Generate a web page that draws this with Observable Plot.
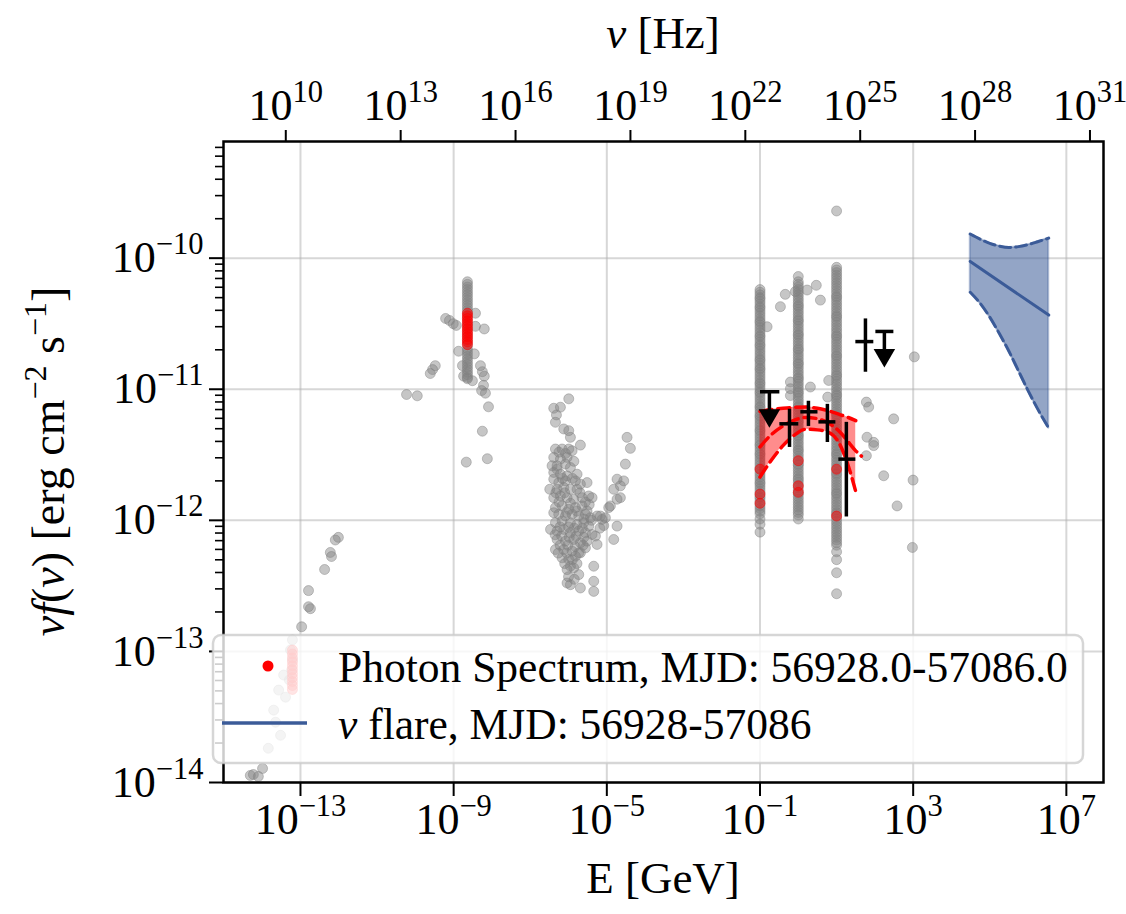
<!DOCTYPE html>
<html><head><meta charset="utf-8">
<script src="https://cdn.jsdelivr.net/npm/d3@7"></script>
<script src="https://cdn.jsdelivr.net/npm/@observablehq/plot@0.6"></script>
<style>
html,body{margin:0;padding:0;background:#fff;overflow:hidden}
</style></head><body><div id="chart"></div>
<script>
// ---------------- DATA (log10 E[GeV], log10 νF [erg cm^-2 s^-1]) ----------------
const H_GEV = 4.135667696e-24; // Planck constant in GeV·s, E = h ν

const xTicks = [1e-13, 1e-9, 1e-5, 1e-1, 1e3, 1e7];
const nuTicks = [1e10, 1e13, 1e16, 1e19, 1e22, 1e25, 1e28, 1e31];
const yTicks = [1e-14, 1e-13, 1e-12, 1e-11, 1e-10];
const yMinorTicks = [
  2e-14,3e-14,4e-14,5e-14,6e-14,7e-14,8e-14,9e-14,
  2e-13,3e-13,4e-13,5e-13,6e-13,7e-13,8e-13,9e-13,
  2e-12,3e-12,4e-12,5e-12,6e-12,7e-12,8e-12,9e-12,
  2e-11,3e-11,4e-11,5e-11,6e-11,7e-11,8e-11,9e-11,
  2e-10,3e-10,4e-10,5e-10,6e-10,7e-10
];

// archival radio points
const radioPts = [
  [-12.01,-12.13],[-12.09,-12.15],[-12.22,-12.245],[-12.19,-12.276],[-12.37,-12.375],
  [-12.79,-12.536],[-12.79,-12.659],[-12.74,-12.674],[-12.97,-12.812],
  [-13.21,-12.912],[-13.26,-12.989],[-13.21,-13.065],[-13.23,-13.142],[-13.29,-13.218],
  [-13.44,-13.18],[-13.57,-13.295],[-13.39,-13.349],[-13.70,-13.448],[-13.65,-13.54],
  [-13.52,-13.64],[-13.84,-13.739],[-13.99,-13.893],[-14.23,-13.939],[-14.10,-13.954],[-14.31,-13.946]
];
// archival optical / UV points
const opticalBarLogE = -8.64;
const opticalBarLogF = [-10.18,-10.20,-10.22,-10.24,-10.26,-10.28,-10.30,-10.32,-10.34,-10.36,-10.38,-10.40,
  -10.42,-10.45,-10.48,-10.51,-10.54,-10.57,-10.60,-10.63,-10.66,-10.69,-10.71,-10.73,-10.75,-10.77,-10.79,
  -10.81,-10.83,-10.85,-10.87,-10.89,-10.91,-10.92];
const opticalPts = [
  [-9.21,-10.46],[-9.11,-10.475],[-9.01,-10.50],[-8.93,-10.513],[-9.48,-10.82],[-9.55,-10.85],
  [-9.61,-10.88],[-10.23,-11.04],[-9.95,-11.05],[-8.87,-10.71],[-8.77,-10.82],[-8.43,-10.52],
  [-8.20,-10.54],[-8.46,-10.73],[-8.30,-10.82],[-8.25,-10.866],[-8.20,-10.90],[-8.22,-10.97],
  [-8.27,-11.01],[-8.17,-11.03],[-8.74,-10.90],[-8.51,-10.935],[-8.09,-11.134],[-8.25,-11.32],
  [-8.12,-11.53],[-8.67,-11.556],[-8.43,-10.42]
];
// archival X-ray points
const xrayPts = [
  [-5.994,-11.073],[-6.386,-11.145],[-6.212,-11.137],[-6.316,-11.196],[-6.342,-11.252],[-6.125,-11.303],
  [-5.994,-11.316],[-5.951,-11.367],[-5.69,-11.426],[-6.342,-11.456],[-6.168,-11.456],[-5.994,-11.456],
  [-5.907,-11.469],[-6.386,-11.52],[-6.212,-11.533],[-6.038,-11.52],[-6.299,-11.584],[-6.081,-11.571],
  [-5.951,-11.597],[-6.386,-11.635],[-6.212,-11.648],[-6.038,-11.661],[-5.777,-11.648],[-6.386,-11.686],
  [-6.255,-11.712],[-6.081,-11.699],[-5.82,-11.699],[-5.69,-11.724],[-5.516,-11.712],[-6.299,-11.763],
  [-6.125,-11.75],[-5.951,-11.763],[-5.777,-11.763],[-6.386,-11.827],[-6.212,-11.814],[-6.038,-11.827],
  [-5.864,-11.839],[-5.646,-11.827],[-5.472,-11.814],[-5.385,-11.827],[-6.342,-11.903],[-6.168,-11.89],
  [-5.994,-11.916],[-5.82,-11.903],[-5.646,-11.89],[-5.516,-11.929],[-6.386,-11.942],[-6.255,-11.954],
  [-6.081,-11.967],[-5.907,-11.954],[-5.733,-11.967],[-5.559,-11.954],[-5.429,-11.98],[-6.342,-12.018],
  [-6.168,-12.005],[-5.951,-12.018],[-5.777,-12.031],[-5.603,-12.018],[-5.472,-12.044],[-6.299,-12.082],
  [-6.125,-12.069],[-5.951,-12.095],[-5.733,-12.082],[-5.559,-12.095],[-5.385,-12.108],[-6.299,-12.146],
  [-6.081,-12.159],[-5.864,-12.146],[-5.69,-12.171],[-5.516,-12.159],[-5.298,-12.12],[-6.342,-12.223],
  [-6.125,-12.223],[-5.907,-12.235],[-5.733,-12.248],[-5.559,-12.21],[-5.255,-12.184],[-6.168,-12.286],
  [-5.994,-12.299],[-5.82,-12.274],[-5.69,-12.248],[-6.038,-12.376],[-5.864,-12.363],[-5.733,-12.414],
  [-5.342,-12.35],[-6.038,-12.478],[-5.951,-12.491],[-5.69,-12.516],[-5.342,-12.465],[-5.342,-12.542],
  [-6.43,-11.584],[-6.49,-11.763],[-6.47,-12.069],
  [-6.25,-11.48],[-6.08,-11.49],[-5.86,-11.55],[-6.30,-11.61],[-6.16,-11.68],[-5.90,-11.68],[-6.33,-11.79],
  [-6.10,-11.79],[-5.70,-11.79],[-5.56,-11.86],[-6.25,-11.86],[-5.95,-11.87],[-6.05,-11.94],[-5.78,-11.93],
  [-5.60,-11.99],[-6.22,-12.05],[-6.00,-12.05],[-5.85,-12.06],[-5.64,-12.06],[-6.35,-12.11],[-6.18,-12.12],
  [-5.98,-12.13],[-5.80,-12.12],[-5.60,-12.13],[-6.22,-12.19],[-6.02,-12.19],[-5.83,-12.20],[-5.62,-12.19],
  [-6.27,-12.25],[-6.05,-12.25],[-5.90,-12.30],[-6.10,-12.33],[-5.95,-12.35],[-5.78,-12.33],[-6.00,-12.43],
  [-5.85,-12.45],[-5.46,-11.88],[-5.40,-12.00],[-5.18,-12.06],[-5.08,-12.04],
  [-4.472,-11.367],[-4.385,-11.451],[-4.515,-11.571],[-4.733,-11.686],[-4.559,-11.699],[-4.646,-11.737],
  [-4.82,-11.763],[-4.646,-11.827],[-4.733,-11.839],[-4.907,-11.89],[-4.95,-11.903],[-5.168,-11.967],
  [-5.037,-11.98],[-5.124,-11.993],[-4.733,-12.044],[-4.82,-12.146],[-5.255,-11.967]
];
// archival gamma-ray light-curve columns at 0.1, 1, 10 GeV
const gammaColLogE = [-1, 0, 1];
const gammaCol1LogF = [-10.24,-10.26,-10.28,-10.30,-10.31,-10.33,-10.35,-10.37,-10.38,-10.40,-10.42,-10.44,
  -10.46,-10.48,-10.49,-10.51,-10.53,-10.55,-10.57,-10.59,-10.60,-10.62,-10.64,-10.66,-10.67,-10.69,-10.71,
  -10.73,-10.75,-10.77,-10.78,-10.80,-10.82,-10.84,-10.85,-10.87,-10.89,-10.91,-10.93,-10.95,-10.96,-10.98,
  -11.00,-11.02,-11.03,-11.05,-11.07,-11.09,-11.11,-11.13,-11.14,-11.16,-11.18,-11.20,-11.21,-11.23,-11.25,
  -11.27,-11.29,-11.31,-11.32,-11.34,-11.36,-11.38,-11.40,-11.42,-11.43,-11.45,-11.47,-11.49,-11.50,-11.52,
  -11.54,-11.56,-11.58,-11.60,-11.61,-11.63,-11.65,-11.67,-11.69,-11.71,-11.72,-11.74,-11.76,-11.78,-11.80,
  -11.82,-11.83,-11.85,-11.87,-11.89,-11.91,-11.93,-11.95,-11.99,-12.03,-12.09];
const gammaCol2LogF = [-10.14,-10.18,-10.20,-10.22,-10.24,-10.26,-10.28,-10.30,-10.32,-10.34,-10.36,-10.37,
  -10.39,-10.41,-10.43,-10.45,-10.47,-10.48,-10.50,-10.52,-10.54,-10.56,-10.58,-10.59,-10.61,-10.63,-10.65,
  -10.67,-10.69,-10.70,-10.72,-10.74,-10.76,-10.78,-10.80,-10.81,-10.83,-10.85,-10.87,-10.89,-10.91,-10.92,
  -10.94,-10.96,-10.98,-11.00,-11.02,-11.03,-11.05,-11.07,-11.09,-11.11,-11.13,-11.14,-11.16,-11.18,-11.20,
  -11.22,-11.24,-11.25,-11.27,-11.29,-11.31,-11.33,-11.35,-11.36,-11.38,-11.40,-11.42,-11.44,-11.46,-11.47,
  -11.49,-11.51,-11.53,-11.55,-11.57,-11.58,-11.60,-11.62,-11.64,-11.66,-11.68,-11.69,-11.71,-11.73,-11.75,
  -11.77,-11.79,-11.80,-11.82,-11.84,-11.86,-11.88,-11.90,-11.92,-11.94,-11.96,-11.99];
const gammaCol3LogF = [-9.64,-10.07,-10.09,-10.11,-10.13,-10.15,-10.17,-10.19,-10.21,-10.23,-10.25,-10.27,
  -10.29,-10.30,-10.32,-10.34,-10.36,-10.38,-10.40,-10.42,-10.44,-10.45,-10.47,-10.49,-10.51,-10.53,-10.55,
  -10.57,-10.59,-10.60,-10.62,-10.64,-10.66,-10.68,-10.70,-10.72,-10.74,-10.75,-10.77,-10.79,-10.81,-10.83,
  -10.85,-10.87,-10.89,-10.90,-10.92,-10.94,-10.96,-10.98,-11.00,-11.02,-11.04,-11.05,-11.07,-11.09,-11.11,
  -11.13,-11.15,-11.17,-11.19,-11.20,-11.22,-11.24,-11.26,-11.28,-11.30,-11.32,-11.34,-11.35,-11.37,-11.39,
  -11.41,-11.43,-11.45,-11.47,-11.49,-11.50,-11.52,-11.54,-11.56,-11.58,-11.60,-11.62,-11.64,-11.65,-11.67,
  -11.69,-11.71,-11.73,-11.75,-11.77,-11.79,-11.80,-11.82,-11.84,-11.86,-11.88,-11.90,-11.92,-11.94,-11.95,
  -11.97,-11.99,-12.01,-12.03,-12.05,-12.07,-12.09,-12.11,-12.13,-12.15,-12.17,-12.19,-12.24,-12.30,-12.40,-12.56];
const gammaScatterPts = [
  [-0.467,-10.37],[-0.076,-10.255],[-0.34,-10.276],[0.23,-10.243],[0.577,-10.32],[0.47,-10.207],
  [-0.815,-10.523],[-0.206,-10.945],[-0.206,-10.996],[-0.206,-11.048],[0.316,-10.983],[0.794,-10.933],
  [0.768,-11.06],[1.778,-11.098],[1.838,-11.136],[2.49,-11.226],[1.794,-11.366],[1.969,-11.405],
  [1.969,-11.43],[1.778,-11.507],[2.23,-11.66],[2.58,-11.89],[2.997,-11.693],[3.03,-10.753],[2.98,-12.207]
];
// photon spectrum (flare period) points
const flareRadioLogE = -13.21;
const flareRadioLogF = [-12.99,-13.02,-13.05,-13.08,-13.11,-13.14,-13.17,-13.20,-13.23,-13.26,-13.29];
const flareOptLogE = -8.64;
const flareOptLogF = [-10.42,-10.44,-10.46,-10.48,-10.50,-10.52,-10.54,-10.56,-10.58,-10.60,-10.62,-10.64,-10.66];
const flareGammaPts = [[-1,-11.61],[-1,-11.80],[-1,-11.87],[0,-11.545],[0,-11.737],[0,-11.786],[1,-11.61],[1,-11.967]];
// gamma-ray fit band
const bandLogE  = [-1.0, -0.7, -0.4, -0.1, 0.2, 0.5, 0.8, 1.1, 1.3, 1.5];
const bandHiLogF = [-11.17,-11.155,-11.145,-11.138,-11.136,-11.145,-11.165,-11.195,-11.215,-11.24];
const bandLoLogF = [-11.67,-11.54,-11.43,-11.35,-11.305,-11.31,-11.33,-11.43,-11.58,-11.78];
const fitLogE  = [-1.0, -0.7, -0.4, -0.1, 0.2, 0.5, 0.8, 1.1, 1.3, 1.5, 1.65];
const fitLogF  = [-11.44,-11.345,-11.28,-11.235,-11.215,-11.225,-11.26,-11.33,-11.40,-11.47,-11.51];
// binned gamma-ray flux points
const binE   = [0.59, 1.84, 5.75, 18.0, 56.7];
const binElo = [0.32, 1.13, 3.35, 11.1, 30.9];
const binEhi = [1.0, 3.17, 9.3, 30.9, 91];
const binF   = [5.45e-12, 6.73e-12, 5.64e-12, 2.93e-12, 2.31e-11];
const binFlo = [3.63e-12, 5.25e-12, 3.96e-12, 1.07e-12, 1.36e-11];
const binFhi = [7.1e-12, 8.17e-12, 7.74e-12, 5.64e-12, 3.47e-11];
const ulE   = [0.176, 177];
const ulElo = [0.1, 103];
const ulEhi = [0.32, 304];
const ulF   = [9.57e-12, 2.76e-11];
// neutrino flare butterfly
const nuLogE    = [4.49, 4.75, 5.0, 5.25, 5.5, 5.75, 6.0, 6.25, 6.54];
const nuHiLogF  = [-9.816,-9.855,-9.887,-9.908,-9.918,-9.912,-9.897,-9.875,-9.847];
const nuLoLogF  = [-10.26,-10.345,-10.45,-10.575,-10.71,-10.86,-11.01,-11.15,-11.297];
const nuFitLogE = [4.49, 6.54];
const nuFitLogF = [-10.025, -10.434];

const legendLabels = ["Photon Spectrum, MJD: 56928.0-57086.0", " flare, MJD: 56928-57086"];

// ---------------- BUILD ----------------
const p10 = v => Math.pow(10, v);
const pts = arr => arr.map(([e, f]) => ({E: p10(e), F: p10(f)}));
const col = (le, arr) => arr.map(f => ({E: p10(le), F: p10(f)}));

const grayPts = [
  ...pts(radioPts), ...col(opticalBarLogE, opticalBarLogF), ...pts(opticalPts), ...pts(xrayPts),
  ...col(gammaColLogE[0], gammaCol1LogF), ...col(gammaColLogE[1], gammaCol2LogF), ...col(gammaColLogE[2], gammaCol3LogF),
  ...pts(gammaScatterPts)
];
const redPts = [...col(flareRadioLogE, flareRadioLogF), ...col(flareOptLogE, flareOptLogF), ...pts(flareGammaPts)];
const band = bandLogE.map((e, i) => ({E: p10(e), hi: p10(bandHiLogF[i]), lo: p10(bandLoLogF[i])}));
const fit = fitLogE.map((e, i) => ({E: p10(e), F: p10(fitLogF[i])}));
const bins = binE.map((e, i) => ({E: e, Elo: binElo[i], Ehi: binEhi[i], F: binF[i], Flo: binFlo[i], Fhi: binFhi[i]}));
const uls = ulE.map((e, i) => ({E: e, Elo: ulElo[i], Ehi: ulEhi[i], F: ulF[i]}));
const nuBand = nuLogE.map((e, i) => ({E: p10(e), hi: p10(nuHiLogF[i]), lo: p10(nuLoLogF[i])}));
const nuFit = nuFitLogE.map((e, i) => ({E: p10(e), F: p10(nuFitLogF[i])}));

const BLUE = "#3b5b98";
const FONT = "'Liberation Serif', 'Times New Roman', serif";
const W = 1126, Hh = 914, ML = 223, MR = 23, MT = 141, MB = 132;
const fmtPow = d => "10^" + Math.round(Math.log10(d));
const ARROW = 0.66; // downward arrow length factor for upper limits

const svg = Plot.plot({
  width: W, height: Hh,
  marginLeft: ML, marginRight: MR, marginTop: MT, marginBottom: MB,
  x: {type: "log", domain: [p10(-15.01), p10(7.97)]},
  y: {type: "log", domain: [1e-14, p10(-9.11)]},
  style: {fontFamily: FONT, fontSize: "44px", background: "white", color: "black"},
  marks: [
    Plot.gridX(xTicks, {stroke: "#b0b0b0", strokeOpacity: 0.5, strokeWidth: 2}),
    Plot.gridY(yTicks, {stroke: "#b0b0b0", strokeOpacity: 0.5, strokeWidth: 2}),
    Plot.dot(grayPts, {x: "E", y: "F", r: 5, fill: "gray", fillOpacity: 0.45, stroke: "gray", strokeOpacity: 0.45, strokeWidth: 1}),
    Plot.dot(redPts, {x: "E", y: "F", r: 5, fill: "red", fillOpacity: 0.5, stroke: "red", strokeOpacity: 0.5, strokeWidth: 1}),
    Plot.areaY(band, {x: "E", y1: "lo", y2: "hi", fill: "red", fillOpacity: 0.45, curve: "monotone-x"}),
    Plot.line(band, {x: "E", y: "hi", stroke: "red", strokeWidth: 3.5, strokeDasharray: "12,6", curve: "monotone-x"}),
    Plot.line(band, {x: "E", y: "lo", stroke: "red", strokeWidth: 3.5, strokeDasharray: "12,6", curve: "monotone-x"}),
    Plot.line(fit, {x: "E", y: "F", stroke: "red", strokeWidth: 3.5, strokeDasharray: "12,6", curve: "monotone-x"}),
    Plot.link(bins, {x1: "Elo", x2: "Ehi", y1: "F", y2: "F", stroke: "black", strokeWidth: 3.5}),
    Plot.link(bins, {x1: "E", x2: "E", y1: "Flo", y2: "Fhi", stroke: "black", strokeWidth: 3.5}),
    Plot.link(uls, {x1: "Elo", x2: "Ehi", y1: "F", y2: "F", stroke: "black", strokeWidth: 3.5}),
    Plot.link(uls, {x1: "E", x2: "E", y1: "F", y2: d => d.F * ARROW, stroke: "black", strokeWidth: 3.5}),
    Plot.dot(uls, {x: "E", y: d => d.F * ARROW, symbol: "triangle", rotate: 180, r: 8, fill: "black"}),
    Plot.areaY(nuBand, {x: "E", y1: "lo", y2: "hi", fill: BLUE, fillOpacity: 0.55, stroke: BLUE, strokeOpacity: 0.35, strokeWidth: 2, curve: "monotone-x"}),
    Plot.line(nuBand, {x: "E", y: "hi", stroke: BLUE, strokeWidth: 3, strokeDasharray: "11,5", curve: "monotone-x"}),
    Plot.line(nuBand, {x: "E", y: "lo", stroke: BLUE, strokeWidth: 3, strokeDasharray: "11,5", curve: "monotone-x"}),
    Plot.line(nuFit, {x: "E", y: "F", stroke: BLUE, strokeWidth: 3}),
    Plot.frame({stroke: "black", strokeWidth: 2.5}),
    Plot.axisX(xTicks, {anchor: "bottom", tickSize: 14, tickPadding: 6, tickFormat: fmtPow, strokeWidth: 2, label: null}),
    Plot.axisX(nuTicks.map(n => n * H_GEV), {anchor: "top", tickSize: 12, tickPadding: 10, tickFormat: d => "10^" + Math.round(Math.log10(d / H_GEV)), strokeWidth: 2, label: null}),
    Plot.axisY(yTicks, {anchor: "left", tickSize: 14, tickPadding: 6, tickFormat: fmtPow, strokeWidth: 2, label: null}),
    Plot.axisY(yMinorTicks, {anchor: "left", tickSize: 8, tickFormat: () => "", strokeWidth: 1.6, label: null})
  ]
});

// superscript exponents on tick labels
const NS = "http://www.w3.org/2000/svg";
svg.querySelectorAll("text").forEach(t => {
  const m = /^10\^(-?\d+)$/.exec(t.textContent.trim());
  if (!m) return;
  t.textContent = "";
  const b = document.createElementNS(NS, "tspan"); b.textContent = "10";
  const e = document.createElementNS(NS, "tspan"); e.textContent = m[1].replace("-", "\u2212");
  e.setAttribute("font-size", "30.5"); e.setAttribute("dy", "-18");
  t.append(b, e);
});

const s = d3.select(svg);
const cx = ML + (W - ML - MR) / 2, cy = MT + (Hh - MT - MB) / 2;
s.append("text").attr("x", cx).attr("y", 893).attr("text-anchor", "middle").attr("font-size", 45).text("E [GeV]");
const tl = s.append("text").attr("x", cx).attr("y", 48).attr("text-anchor", "middle").attr("font-size", 45);
tl.append("tspan").attr("font-style", "italic").text("\u03BD");
tl.append("tspan").text(" [Hz]");
const yl = s.append("text").attr("transform", `translate(64,${cy}) rotate(-90)`).attr("text-anchor", "middle").attr("font-size", 46);
yl.append("tspan").attr("font-style", "italic").text("\u03BDf");
yl.append("tspan").text("(");
yl.append("tspan").attr("font-style", "italic").text("\u03BD");
yl.append("tspan").text(") [erg cm");
yl.append("tspan").attr("font-size", 32).attr("dy", -18).text("\u22122");
yl.append("tspan").attr("dy", 18).text(" s");
yl.append("tspan").attr("font-size", 32).attr("dy", -18).text("\u22121");
yl.append("tspan").attr("dy", 18).text("]");

// legend
const lg = s.append("g").attr("text-anchor", "start");
lg.append("rect").attr("x", 213).attr("y", 635).attr("width", 870).attr("height", 128).attr("rx", 8)
  .attr("fill", "white").attr("fill-opacity", 0.8).attr("stroke", "#cccccc").attr("stroke-opacity", 0.8).attr("stroke-width", 2.5);
lg.append("circle").attr("cx", 268).attr("cy", 666).attr("r", 5.5).attr("fill", "red");
lg.append("text").attr("x", 338).attr("y", 682).attr("text-anchor", "start").attr("font-size", 43.5).text(legendLabels[0]);
lg.append("line").attr("x1", 222).attr("x2", 307).attr("y1", 723).attr("y2", 723).attr("stroke", BLUE).attr("stroke-width", 3.5);
const l2 = lg.append("text").attr("x", 338).attr("y", 739).attr("text-anchor", "start").attr("font-size", 43.5);
l2.append("tspan").attr("font-style", "italic").text("\u03BD");
l2.append("tspan").text(legendLabels[1]);

document.getElementById("chart").append(svg);
</script></body></html>
